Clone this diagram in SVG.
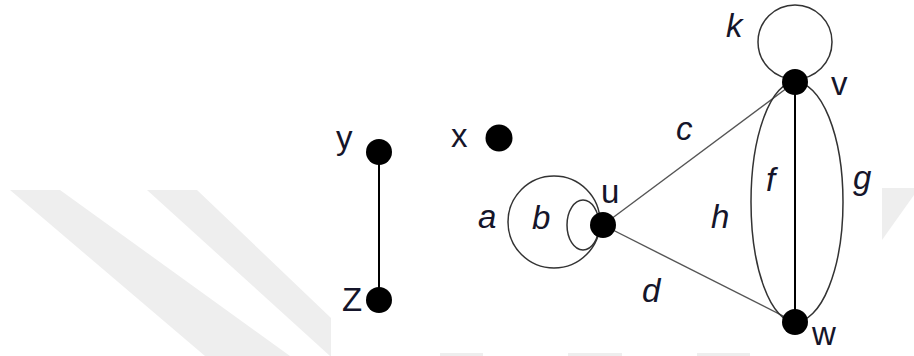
<svg xmlns="http://www.w3.org/2000/svg" width="914" height="356" viewBox="0 0 914 356">
<style>
.wm{fill:#eeeeee}
.node{fill:#000}
.lbl{font-family:"Liberation Sans",Arial,sans-serif;font-size:33px;fill:#15152a}
.it{font-style:italic}
.thick{stroke:#000;stroke-width:2;fill:none}
.thin{stroke:#555;stroke-width:1.4;fill:none}
.loop{stroke:#333;stroke-width:1.5;fill:none}
</style>
<rect width="914" height="356" fill="#fff"/>
<g id="watermark">
<polygon class="wm" points="10,190 60,190 290,356 205,356"/>
<polygon class="wm" points="147,190 197,190 331,318 331,356 330,356"/>
<polygon class="wm" points="882,188 914,188 914,195 882,240"/>
<rect class="wm" x="440" y="353" width="43" height="3"/>
<rect class="wm" x="568" y="353" width="54" height="3"/>
<rect class="wm" x="697" y="353" width="53" height="3"/>
</g>
<rect x="331" y="0" width="551" height="353" fill="#fff"/>
<g id="connectors">
<line id="e-yz" class="thick" x1="379" y1="152" x2="379" y2="300"/>
<circle id="e-a" class="loop" cx="554" cy="222" r="46"/>
<ellipse id="e-b" class="loop" cx="583" cy="225" rx="16" ry="25"/>
<line id="e-c" class="thin" x1="603" y1="225" x2="795" y2="82"/>
<line id="e-d" class="thin" x1="603" y1="225" x2="795" y2="322"/>
<circle id="e-k" class="loop" cx="795" cy="42" r="37"/>
<path id="e-h" class="loop" d="M795,82 A44,120 0 0 0 795,322"/>
<path id="e-g" class="loop" d="M795,82 A48,120 0 0 1 795,322"/>
<line id="e-f" class="thick" x1="795" y1="82" x2="795" y2="322"/>
</g>
<g id="node-y"><circle class="node" cx="379" cy="152" r="13"/><text class="lbl" x="336" y="149">y</text></g>
<g id="node-z"><circle class="node" cx="379" cy="300" r="13"/><text class="lbl" x="342" y="311">Z</text></g>
<g id="node-x"><circle class="node" cx="499" cy="138" r="13.5"/><text class="lbl" x="451" y="147">x</text></g>
<g id="node-u"><circle class="node" cx="603" cy="225" r="13"/><text class="lbl" x="601" y="203">u</text></g>
<g id="node-v"><circle class="node" cx="795" cy="82" r="13"/><text class="lbl" x="831" y="95">v</text></g>
<g id="node-w"><circle class="node" cx="795" cy="322" r="13"/><text class="lbl" x="812" y="345">w</text></g>
<g id="labels">
<text class="lbl it" x="478" y="228">a</text>
<text class="lbl it" x="532" y="229">b</text>
<text class="lbl it" x="676" y="140">c</text>
<text class="lbl it" x="642" y="302">d</text>
<text class="lbl it" x="766" y="191">f</text>
<text class="lbl it" x="853" y="189">g</text>
<text class="lbl it" x="711" y="228">h</text>
<text class="lbl it" x="726" y="37">k</text>
</g>
</svg>
